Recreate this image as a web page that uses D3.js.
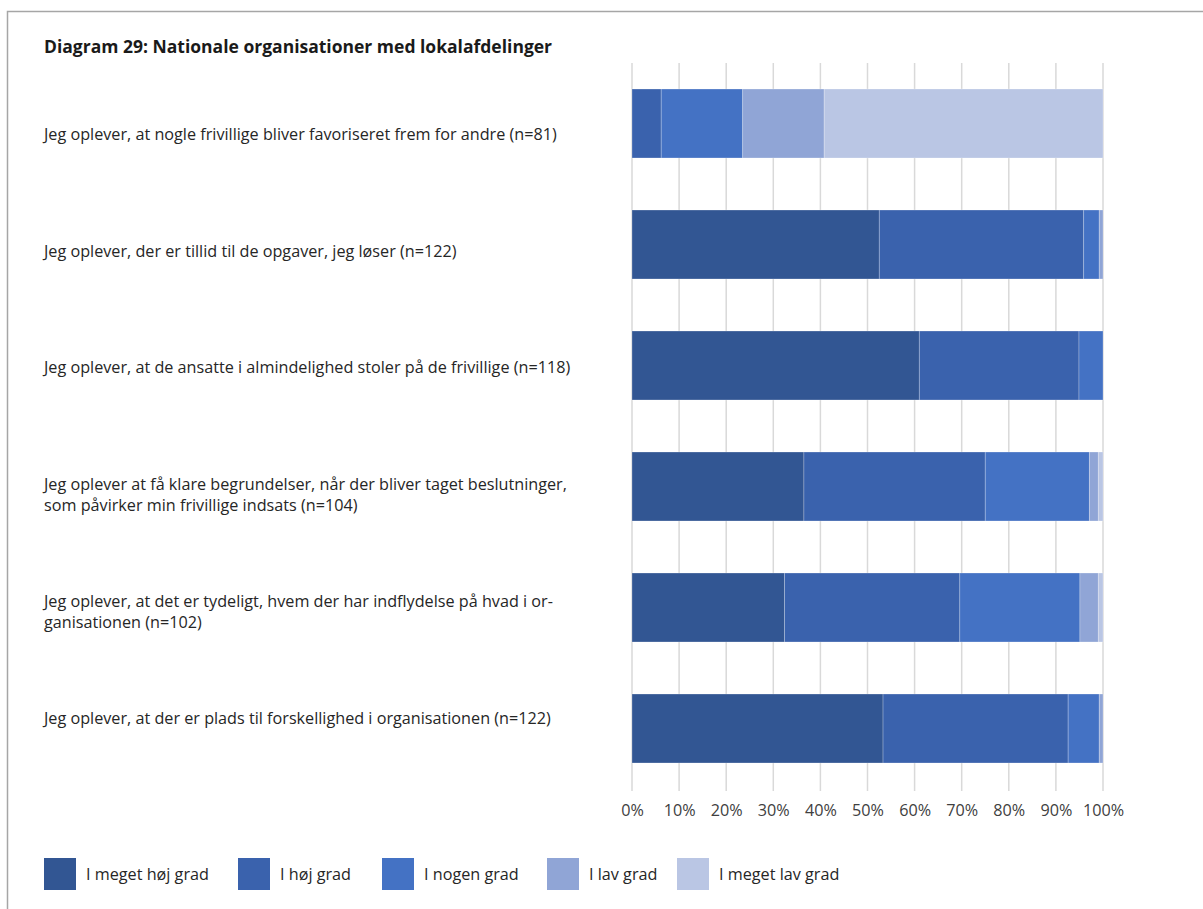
<!DOCTYPE html>
<html>
<head>
<meta charset="utf-8">
<script src="https://cdn.jsdelivr.net/npm/d3@7"></script>
<style>
  html, body { margin: 0; padding: 0; background: #fff; }
  svg { display: block; }
  text { font-family: "Open Sans", "Noto Sans", sans-serif; }
</style>
</head>
<body>
<svg id="chart" width="1203" height="909"></svg>
<script>
// Survey statements, each split into the lines shown on the axis
const categories = [
  ["Jeg oplever, at nogle frivillige bliver favoriseret frem for andre (n=81)"],
  ["Jeg oplever, der er tillid til de opgaver, jeg løser (n=122)"],
  ["Jeg oplever, at de ansatte i almindelighed stoler på de frivillige (n=118)"],
  ["Jeg oplever at få klare begrundelser, når der bliver taget beslutninger,", "som påvirker min frivillige indsats (n=104)"],
  ["Jeg oplever, at det er tydeligt, hvem der har indflydelse på hvad i or-", "ganisationen (n=102)"],
  ["Jeg oplever, at der er plads til forskellighed i organisationen (n=122)"]
];

// Answer categories (stack order, left to right)
const seriesNames = ["I meget høj grad", "I høj grad", "I nogen grad", "I lav grad", "I meget lav grad"];

// Share of answers in percent, one array per answer category, in statement order
const megetHoej = [0.0, 52.5, 61.0, 36.5, 32.4, 53.3];
const hoej      = [6.2, 43.4, 33.9, 38.5, 37.2, 39.3];
const nogen     = [17.3, 3.3, 5.1, 22.1, 25.5, 6.6];
const lav       = [17.3, 0.8, 0.0, 1.9, 3.9, 0.8];
const megetLav  = [59.2, 0.0, 0.0, 1.0, 1.0, 0.0];

const tickValues = [0, 10, 20, 30, 40, 50, 60, 70, 80, 90, 100];

const title = "Diagram 29: Nationale organisationer med lokalafdelinger";

const colors = ["#325693", "#3a62ad", "#4472c4", "#90a5d6", "#bac6e4"];

// Build rows for d3.stack
const seriesValues = [megetHoej, hoej, nogen, lav, megetLav];
const rows = categories.map((c, i) => {
  const r = { key: i };
  seriesNames.forEach((s, j) => { r[s] = seriesValues[j][i]; });
  return r;
});
const stacked = d3.stack().keys(seriesNames)(rows);

const svg = d3.select("#chart");
const fontSize = 16.2;

// Frame
svg.append("path")
  .attr("d", "M7.5,909 V11.5 H1203")
  .attr("fill", "none")
  .attr("stroke", "#a6a6a6")
  .attr("stroke-width", 1.5);

// Title
svg.append("text")
  .attr("x", 44).attr("y", 53)
  .attr("font-size", 17.5).attr("font-weight", "bold")
  .attr("fill", "#1a1a1a")
  .text(title);

const x = d3.scaleLinear().domain([0, 100]).range([632, 1103]);
const y = d3.scaleBand()
  .domain(d3.range(categories.length))
  .range([63, 789])
  .paddingInner(0.43)
  .paddingOuter(0.215);

// Label column has its own vertical placement; first line sits on the slot
const yLabel = d3.scalePoint()
  .domain(d3.range(categories.length))
  .range([134, 718.5]);

// Vertical gridlines
svg.append("g")
  .selectAll("line")
  .data(tickValues)
  .join("line")
  .attr("x1", d => x(d)).attr("x2", d => x(d))
  .attr("y1", 63).attr("y2", 791)
  .attr("stroke", "#d9d9d9")
  .attr("stroke-width", 1.5);

// Stacked bars
svg.append("g")
  .selectAll("g")
  .data(stacked)
  .join("g")
  .attr("fill", (d, i) => colors[i])
  .selectAll("rect")
  .data(d => d)
  .join("rect")
  .attr("x", d => x(d[0]))
  .attr("y", (d, i) => y(i))
  .attr("width", d => x(d[1]) - x(d[0]))
  .attr("height", y.bandwidth())
  .attr("stroke", "rgba(255,255,255,0.3)")
  .attr("stroke-width", 0.8);

// Value axis labels
const xAxis = d3.axisBottom(x)
  .tickValues(tickValues)
  .tickFormat(d => d + "%")
  .tickSize(0)
  .tickPadding(0);
const gx = svg.append("g")
  .attr("transform", "translate(0,816)")
  .call(xAxis);
gx.select(".domain").remove();
gx.selectAll("text")
  .attr("font-family", "'Open Sans', 'Noto Sans', sans-serif")
  .attr("font-size", fontSize)
  .attr("fill", "#404040")
  .attr("dy", 0);

// Category labels
const labels = svg.append("g")
  .selectAll("text")
  .data(categories)
  .join("text")
  .attr("x", 44)
  .attr("font-size", fontSize)
  .attr("fill", "#262626")
  .attr("y", (d, i) => yLabel(i));
labels.selectAll("tspan")
  .data(d => d.map((line, k) => ({ line, k })))
  .join("tspan")
  .attr("x", 44)
  .attr("dy", d => d.k === 0 ? "0.35em" : "1.3em")
  .text(d => d.line);

// Legend
const legendX = [44, 238, 382, 547, 677];
const legend = svg.append("g")
  .selectAll("g")
  .data(seriesNames)
  .join("g")
  .attr("transform", (d, i) => `translate(${legendX[i]},858)`);
legend.append("rect")
  .attr("width", 32).attr("height", 32)
  .attr("fill", (d, i) => colors[i]);
legend.append("text")
  .attr("x", 42).attr("y", 16).attr("dy", "0.35em")
  .attr("font-size", fontSize)
  .attr("fill", "#262626")
  .text(d => d);
</script>
</body>
</html>
